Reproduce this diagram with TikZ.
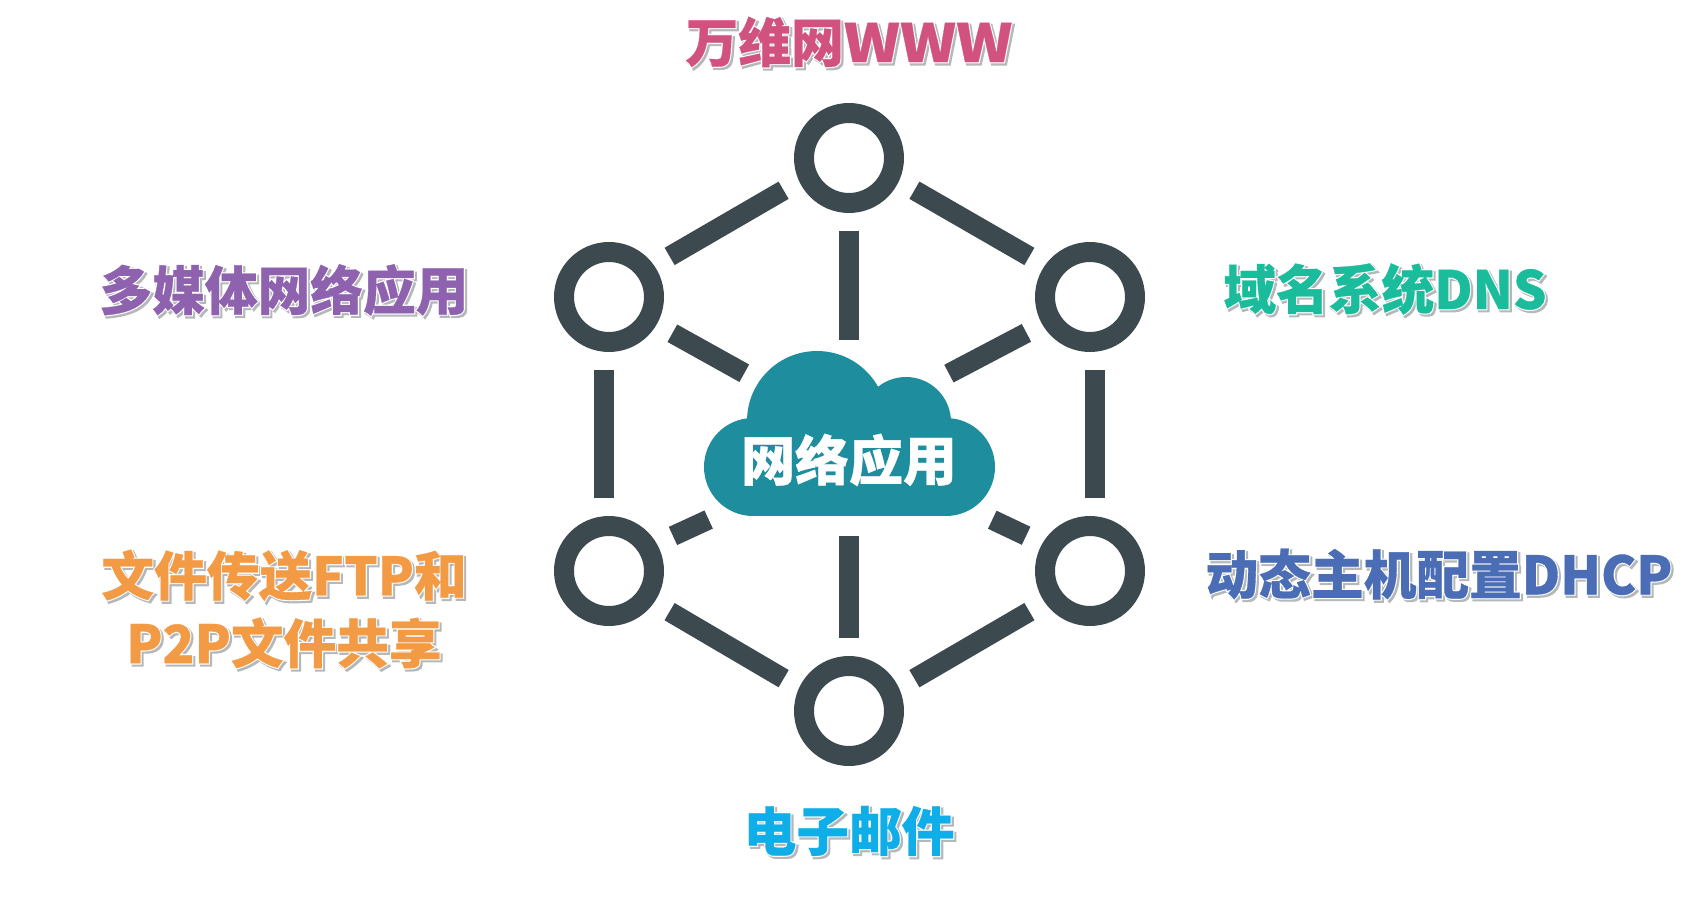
\documentclass[tikz,border=0pt]{standalone}
\usepackage{fontspec}
\usepackage{xcolor}
\usetikzlibrary{positioning}
\newfontfamily\cjkfont[BoldFeatures={FakeBold=0.6}]{Noto Sans CJK SC}
\newfontfamily\cjkhalo[BoldFeatures={FakeBold=5}]{Noto Sans CJK SC}
\definecolor{bargrey}{HTML}{3C494E}
\definecolor{cloudteal}{HTML}{1E8E9E}
\definecolor{halogrey}{HTML}{B4B8BA}
\definecolor{wwwrose}{HTML}{D2527F}
\definecolor{mediaviolet}{HTML}{8E62AE}
\definecolor{dnsgreen}{HTML}{1ABC9C}
\definecolor{ftporange}{HTML}{F39A45}
\definecolor{dhcpblue}{HTML}{4A6DB5}
\definecolor{mailblue}{HTML}{0FAEE8}
\newcommand{\haloline}[2]{\rlap{\kern1.2pt\raisebox{-1.2pt}{\color{halogrey}\cjkhalo\bfseries #2}}\rlap{\color{white}\cjkhalo\bfseries #2}{\color{#1}\cjkfont\bfseries #2}}
\newcommand{\wideW}[1]{{\addfontfeatures{FakeStretch=1.14}#1}}
\tikzset{
  hub/.style={circle,draw=bargrey,line width=0.4cm,minimum size=1.8cm,inner sep=0pt},
  bar/.style={draw=bargrey,line width=0.4cm,shorten <=0.36cm,shorten >=0.36cm},
  label/.style={inner sep=0pt,align=center,font=\fontsize{30}{38.6}\selectfont}
}
\begin{document}
\begin{tikzpicture}[x=0.02cm,y=-0.02cm]
  \useasboundingbox (0,0) rectangle (1705,902);

  \fill[cloudteal] (753,467) circle (49);
  \fill[cloudteal] (946,467) circle (49);
  \fill[cloudteal] (817,421) circle (70);
  \fill[cloudteal] (906,422) circle (45);
  \fill[cloudteal] (753,421) rectangle (946,516);
  \node[inner sep=0pt,text=white,font=\fontsize{30.7}{36}\selectfont\cjkfont\bfseries] (net) at (849,460) {网络应用};
  \coordinate (cloudtop) at (849,358);
  \coordinate (cloudbot) at (849,518);
  \coordinate (cloudnw) at (760,382);
  \coordinate (cloudne) at (933,382);
  \coordinate (cloudsw) at (725,512);
  \coordinate (cloudse) at (976,512);

  \node[hub] (top) at (849,158) {};
  \node[hub] (lu) at (609,297) {};
  \node[hub] (ru) at (1090,297) {};
  \node[hub] (ll) at (609,571) {};
  \node[hub] (rl) at (1090,571) {};
  \node[hub] (bot) at (849,711) {};

  \path (top.205) edge[bar] (lu.35)
        (top.335) edge[bar] (ru.145)
        (bot.155) edge[bar] (ll.325)
        (bot.25) edge[bar] (rl.215)
        (lu.265) edge[bar] (ll.95)
        (ru.275) edge[bar] (rl.85)
        (top.south) edge[bar] (cloudtop)
        (bot.north) edge[bar] (cloudbot)
        (lu.330) edge[bar] (cloudnw)
        (ru.210) edge[bar] (cloudne)
        (ll.30) edge[bar] (cloudsw)
        (rl.150) edge[bar] (cloudse);

  \node[label] (www) at (849,43) {\haloline{wwwrose}{万维网\wideW{WWW}}};
  \node[label] (media) at (284,291) {\haloline{mediaviolet}{多媒体网络应用}};
  \node[label] (dns) at (1385,290) {\haloline{dnsgreen}{域名系统DNS}};
  \node[label] (ftp) at (284,610) {\haloline{ftporange}{文件传送FTP和}\\\haloline{ftporange}{P2P文件共享}};
  \node[label] (dhcp) at (1439,575) {\haloline{dhcpblue}{动态主机配置DHCP}};
  \node[label] (mail) at (849,832) {\haloline{mailblue}{电子邮件}};
\end{tikzpicture}
\end{document}
